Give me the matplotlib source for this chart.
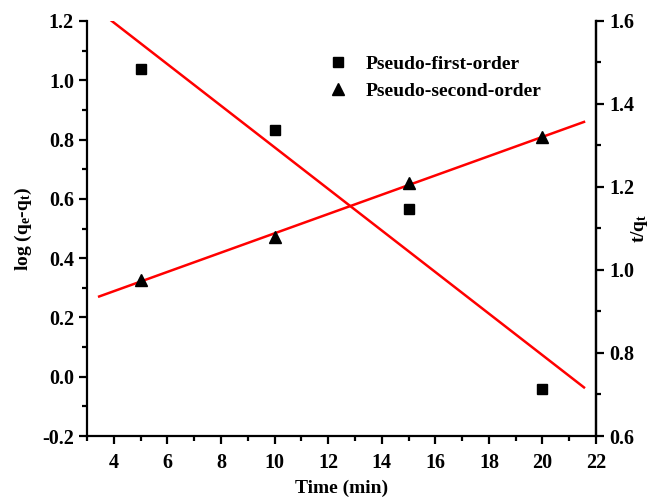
import numpy as np
import matplotlib
matplotlib.use("Agg")
import matplotlib.pyplot as plt
from matplotlib.ticker import MultipleLocator

# Kinetic data
time_min = [5, 10, 15, 20]
log_qe_qt = [1.038, 0.832, 0.566, -0.042]   # pseudo-first-order, left axis
t_over_qt = [0.976, 1.080, 1.210, 1.320]    # pseudo-second-order, right axis
fit_range = [3.45, 21.55]

plt.rcParams['font.family'] = ['Liberation Serif', 'DejaVu Serif']
plt.rcParams['font.weight'] = 'bold'
plt.rcParams['mathtext.fontset'] = 'custom'
plt.rcParams['mathtext.rm'] = 'Liberation Serif:bold'
plt.rcParams['mathtext.it'] = 'Liberation Serif:bold'
plt.rcParams['mathtext.bf'] = 'Liberation Serif:bold'

fig = plt.figure(figsize=(6.5, 5.0), dpi=100)
ax = fig.add_axes([0.134, 0.128, 0.783, 0.830])
ax2 = ax.twinx()

xf = np.linspace(fit_range[0], fit_range[1], 50)
p1 = np.polyfit(time_min, log_qe_qt, 1)
p2 = np.polyfit(time_min, t_over_qt, 1)

ax.plot(xf, np.polyval(p1, xf), color='#ff0000', lw=1.8, zorder=2)
h1, = ax.plot(time_min, log_qe_qt, 's', color='black', ms=7.5, zorder=3,
              label='Pseudo-first-order')
ax2.plot(xf, np.polyval(p2, xf), color='#ff0000', lw=1.8, zorder=2)
h2, = ax2.plot(time_min, t_over_qt, '^', color='black', ms=9, zorder=3,
               label='Pseudo-second-order')

ax.set_xlim(3, 22)
ax.set_ylim(-0.2, 1.2)
ax2.set_ylim(0.6, 1.6)

ax.xaxis.set_minor_locator(MultipleLocator(1))
ax.yaxis.set_minor_locator(MultipleLocator(0.1))
ax2.yaxis.set_minor_locator(MultipleLocator(0.1))

ax.set_xticks([4, 6, 8, 10, 12, 14, 16, 18, 20, 22])
left_ticks = np.round(np.arange(-0.2, 1.21, 0.2), 1)
right_ticks = np.round(np.arange(0.6, 1.61, 0.2), 1)
ax.set_yticks(left_ticks)
ax.set_yticklabels([f"{v:.1f}" for v in left_ticks])
ax2.set_yticks(right_ticks)
ax2.set_yticklabels([f"{v:.1f}" for v in right_ticks])

for a in (ax, ax2):
    a.spines['top'].set_visible(False)
    for s in a.spines.values():
        s.set_linewidth(1.6)
    a.tick_params(which='major', direction='out', length=6, width=1.6,
                  labelsize=14.5)
    a.tick_params(which='minor', direction='out', length=3.5, width=1.6)
ax.tick_params(axis='x', which='major', pad=6)
ax2.spines['left'].set_visible(False)
ax2.spines['bottom'].set_visible(False)

ax.set_xlabel('Time (min)', fontsize=14, fontweight='bold', labelpad=5)
ax.set_ylabel(r'log (q$_\mathregular{e}$-q$_\mathregular{t}$)', fontsize=14,
              fontweight='bold', labelpad=6)
ax2.set_ylabel(r't/q$_\mathregular{t}$', fontsize=14, fontweight='bold',
               rotation=90)
ax2.yaxis.set_label_coords(1.064, 0.5)

fig.legend(handles=[h1, h2], loc='upper left',
           bbox_to_anchor=(0.496, 0.905), frameon=False,
           prop={'family': 'Liberation Serif', 'weight': 'bold', 'size': 14},
           handlelength=0.8, handletextpad=1.0, labelspacing=0.5,
           borderaxespad=0.0)

fig.savefig('out.png', dpi=100)
